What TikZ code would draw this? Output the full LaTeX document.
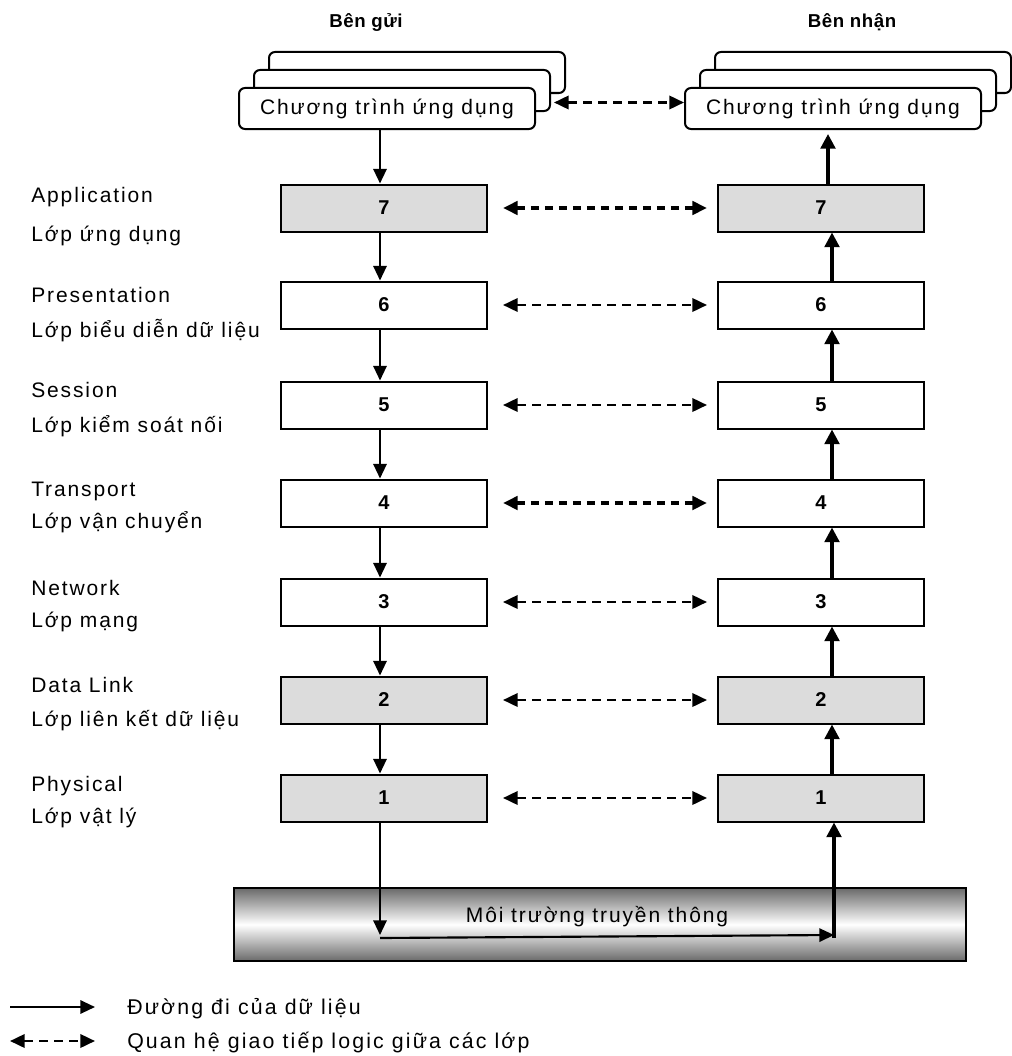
\documentclass[tikz,border=0pt]{standalone}
\usepackage{fontspec}
\setmainfont{Liberation Sans}
\newfontfamily\lblfont[LetterSpace=9]{Liberation Sans}
\newfontfamily\legfont[LetterSpace=10]{Liberation Sans}
\newfontfamily\headfont[LetterSpace=3]{Liberation Sans}
\newfontfamily\numfont{Liberation Sans}
\usetikzlibrary{arrows.meta,calc}
\definecolor{boxgray}{HTML}{DCDCDC}
\definecolor{bardark}{HTML}{6A6A6A}
\tikzset{
  lbl/.style={anchor=base west, inner sep=0pt, font=\lblfont\fontsize{15.75pt}{18pt}\selectfont},
  leg/.style={anchor=base west, inner sep=0pt, font=\legfont\fontsize{16pt}{18pt}\selectfont},
  head/.style={anchor=base, inner sep=0pt, font=\headfont\bfseries\fontsize{14pt}{16pt}\selectfont},
  layer/.style={draw, line width=1.5pt, minimum width=154.5pt, minimum height=35.25pt, inner sep=0pt, fill=white, font=\numfont\bfseries\fontsize{15pt}{17pt}\selectfont},
  graylayer/.style={layer, fill=boxgray},
  appbox/.style={draw, line width=1.5pt, rounded corners=4.5pt, fill=white, minimum width=222pt, minimum height=30.75pt, inner sep=0pt, font=\lblfont\fontsize{15.75pt}{18pt}\selectfont},
  flow/.style={line width=1.6pt, -{Triangle[length=11pt,width=10pt]}},
  flowthick/.style={line width=2.5pt, -{Triangle[length=11pt,width=11pt]}},
  logic/.style={line width=1.9pt, dash pattern=on 6.75pt off 4.5pt, {Triangle[length=11pt,width=10pt]}-{Triangle[length=11pt,width=10pt]}},
  logicbold/.style={logic, line width=2.7pt, dash pattern=on 6pt off 4.5pt},
  medium/.style={draw, line width=1pt, minimum width=549pt, minimum height=54.75pt, inner sep=0pt, top color=bardark, bottom color=bardark, middle color=white},
}
\begin{document}
\begin{tikzpicture}[x=0.75pt,y=-0.75pt]
\useasboundingbox (0,0) rectangle (1012,1056);

% headings
\node[head] (HL) at (366,28) {Bên gửi};
\node[head] (HR) at (852,28) {Bên nhận};

% application stacks
\node[appbox] (AppL3) at (417,72.5) {};
\node[appbox] (AppL2) at (402,90.5) {};
\node[appbox] (AppL) at (387,108.5) {Chương trình ứng dụng};
\node[appbox] (AppR3) at (863,72.5) {};
\node[appbox] (AppR2) at (848,90.5) {};
\node[appbox] (AppR) at (833,108.5) {Chương trình ứng dụng};

% layers
\node[graylayer] (L7) at (384,208) {7};
\node[layer]     (L6) at (384,305) {6};
\node[layer]     (L5) at (384,405) {5};
\node[layer]     (L4) at (384,503) {4};
\node[layer]     (L3) at (384,602) {3};
\node[graylayer] (L2) at (384,700) {2};
\node[graylayer] (L1) at (384,798) {1};
\node[graylayer] (R7) at (821,208) {7};
\node[layer]     (R6) at (821,305) {6};
\node[layer]     (R5) at (821,405) {5};
\node[layer]     (R4) at (821,503) {4};
\node[layer]     (R3) at (821,602) {3};
\node[graylayer] (R2) at (821,700) {2};
\node[graylayer] (R1) at (821,798) {1};

% left labels
\node[lbl] (T7a) at (31,202) {Application};
\node[lbl] (T7b) at (31,241) {Lớp ứng dụng};
\node[lbl] (T6a) at (31,302) {Presentation};
\node[lbl] (T6b) at (31,337) {Lớp biểu diễn dữ liệu};
\node[lbl] (T5a) at (31,397) {Session};
\node[lbl] (T5b) at (31,432) {Lớp kiểm soát nối};
\node[lbl] (T4a) at (31,496) {Transport};
\node[lbl] (T4b) at (31,528) {Lớp vận chuyển};
\node[lbl] (T3a) at (31,595) {Network};
\node[lbl] (T3b) at (31,627) {Lớp mạng};
\node[lbl] (T2a) at (31,692) {Data Link};
\node[lbl] (T2b) at (31,726) {Lớp liên kết dữ liệu};
\node[lbl] (T1a) at (31,791) {Physical};
\node[lbl] (T1b) at (31,823) {Lớp vật lý};

% medium bar
\node[medium] (Med) at (600,924.5) {};
\node[lbl, anchor=center] (MedT) at (597,917) {Môi trường truyền thông};

% coordinates
\coordinate (Lx) at (380,0);
\coordinate (Rx) at (828,0);
\coordinate (Ltip) at (380,935);
\coordinate (BL) at (380,938);
\coordinate (BR) at (834,935);
\coordinate (BRb) at (834,938);

% sender data path
\draw[flow] (AppL.south -| Lx) -- (L7.north -| Lx);
\draw[flow] ([xshift=-3pt]L7.south) -- ([xshift=-3pt]L6.north);
\draw[flow] ([xshift=-3pt]L6.south) -- ([xshift=-3pt]L5.north);
\draw[flow] ([xshift=-3pt]L5.south) -- ([xshift=-3pt]L4.north);
\draw[flow] ([xshift=-3pt]L4.south) -- ([xshift=-3pt]L3.north);
\draw[flow] ([xshift=-3pt]L3.south) -- ([xshift=-3pt]L2.north);
\draw[flow] ([xshift=-3pt]L2.south) -- ([xshift=-3pt]L1.north);
\draw[flow] ([xshift=-3pt]L1.south) -- (Ltip);
\draw[flow] (BL) -- (BR);

% receiver data path
\draw[flowthick] (BRb) -- ([xshift=9.75pt]R1.south);
\draw[flowthick] ([xshift=8.25pt]R1.north) -- ([xshift=8.25pt]R2.south);
\draw[flowthick] ([xshift=8.25pt]R2.north) -- ([xshift=8.25pt]R3.south);
\draw[flowthick] ([xshift=8.25pt]R3.north) -- ([xshift=8.25pt]R4.south);
\draw[flowthick] ([xshift=8.25pt]R4.north) -- ([xshift=8.25pt]R5.south);
\draw[flowthick] ([xshift=8.25pt]R5.north) -- ([xshift=8.25pt]R6.south);
\draw[flowthick] ([xshift=8.25pt]R6.north) -- ([xshift=8.25pt]R7.south);
\draw[flowthick, shorten >=3pt] (R7.north -| Rx) -- (AppR.south -| Rx);

% logical peer relations
\draw[logic] ([shift={(13.5pt,4.5pt)}]AppL.east) -- ([yshift=4.5pt]AppR.west);
\draw[logicbold] ([xshift=11.25pt]L7.east) -- ([xshift=-7.5pt]R7.west);
\draw[logic] ([xshift=11.25pt]L6.east) -- ([xshift=-7.5pt]R6.west);
\draw[logic] ([xshift=11.25pt]L5.east) -- ([xshift=-7.5pt]R5.west);
\draw[logicbold] ([xshift=11.25pt]L4.east) -- ([xshift=-7.5pt]R4.west);
\draw[logic] ([xshift=11.25pt]L3.east) -- ([xshift=-7.5pt]R3.west);
\draw[logic] ([xshift=11.25pt]L2.east) -- ([xshift=-7.5pt]R2.west);
\draw[logic] ([xshift=11.25pt]L1.east) -- ([xshift=-7.5pt]R1.west);

% legend
\coordinate (G1a) at (10,1007);
\coordinate (G1b) at (95,1007);
\coordinate (G2a) at (10,1041);
\coordinate (G2b) at (95,1041);
\draw[flow] (G1a) -- (G1b);
\draw[logic] (G2a) -- (G2b);
\node[leg] (G1t) at (127,1014) {Đường đi của dữ liệu};
\node[leg] (G2t) at (127,1048) {Quan hệ giao tiếp logic giữa các lớp};
\end{tikzpicture}
\end{document}
